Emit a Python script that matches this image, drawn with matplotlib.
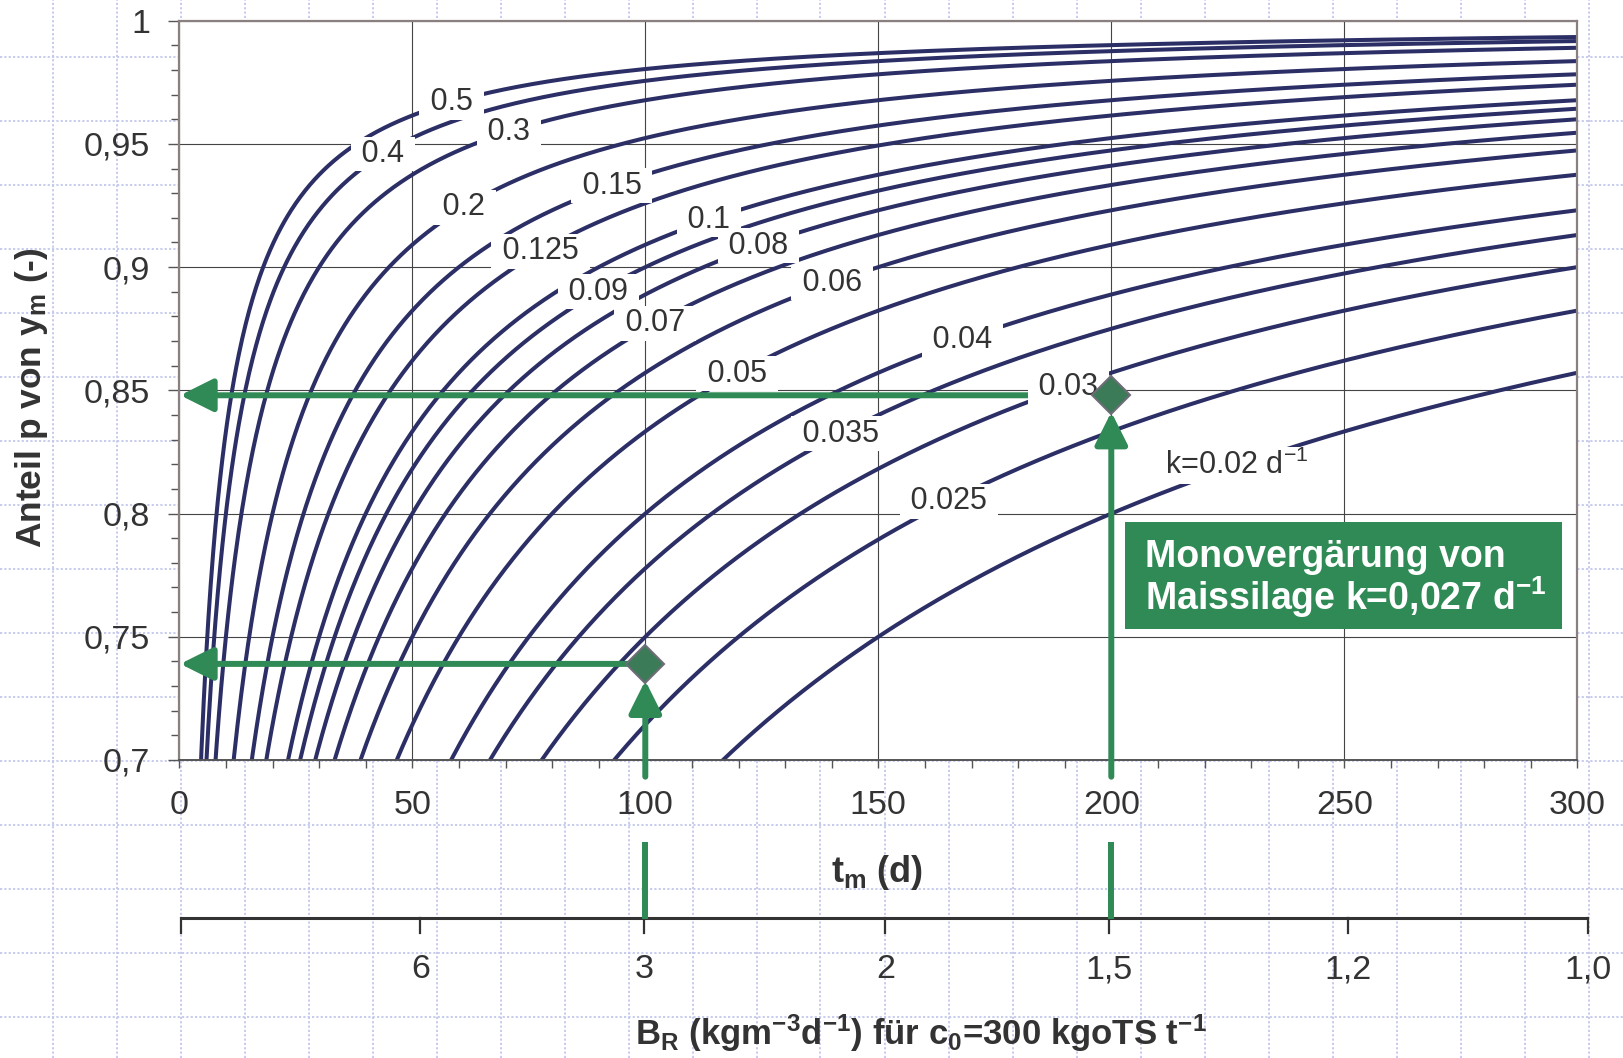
import numpy as np
import matplotlib
matplotlib.use('Agg')
import matplotlib.pyplot as plt
from matplotlib.lines import Line2D
from matplotlib.patches import Rectangle
import matplotlib.transforms as mtransforms

plt.rcParams['font.family'] = ['Liberation Sans', 'DejaVu Sans']
plt.rcParams['mathtext.fontset'] = 'custom'
plt.rcParams['mathtext.rm'] = 'Liberation Sans'
plt.rcParams['mathtext.it'] = 'Liberation Sans:italic'
plt.rcParams['mathtext.bf'] = 'Liberation Sans:bold'

# ---------------- data ----------------
k_values = [0.5, 0.4, 0.3, 0.2, 0.15, 0.125, 0.1, 0.09, 0.08, 0.07, 0.06,
            0.05, 0.04, 0.035, 0.03, 0.025, 0.02]
label_texts = ['0.5', '0.4', '0.3', '0.2', '0.15', '0.125', '0.1', '0.09', '0.08',
               '0.07', '0.06', '0.05', '0.04', '0.035', '0.03', '0.025',
               r'k=0.02 d$^{\mathregular{-1}}$']
label_t = [58.4, 43.7, 70.8, 61.0, 92.8, 77.5, 113.7, 89.9, 124.3,
           102.1, 140.1, 119.7, 168.1, 141.9, 190.8, 165.2, 227.0]
t_days = np.linspace(0.0, 300.0, 1201)

x_ticks = [0, 50, 100, 150, 200, 250, 300]
x_ticklabels = ['0', '50', '100', '150', '200', '250', '300']
y_ticks = [0.7, 0.75, 0.8, 0.85, 0.9, 0.95, 1.0]
y_ticklabels = ['0,7', '0,75', '0,8', '0,85', '0,9', '0,95', '1']

# secondary B_R scale (hand-drawn in the original; positions read in t_m units)
br_labels = ['6', '3', '2', '1,5', '1,2', '1,0']
br_tick_t = [51.7, 99.8, 151.5, 199.4, 250.9, 302.4]

example_t = [100, 200]
example_p = [0.739, 0.848]

# ---------------- figure ----------------
W, H = 1623, 1058
fig = plt.figure(figsize=(W / 100, H / 100), dpi=100)
fig.patch.set_facecolor('white')


def fx(px):
    return px / W


def fy(py):
    return 1 - py / H


# slide background: dotted lavender grid
bg = '#c3c7ec'
for xv in np.arange(52.5, W, 64.0):
    fig.add_artist(Line2D([fx(xv)] * 2, [0, 1], transform=fig.transFigure,
                          color=bg, lw=1.3, ls=(0, (1.2, 1.2)), zorder=-5))
for yv in np.arange(56.7, H, 64.0):
    fig.add_artist(Line2D([0, 1], [fy(yv)] * 2, transform=fig.transFigure,
                          color=bg, lw=1.3, ls=(0, (1.2, 1.2)), zorder=-5))

ax = fig.add_axes([fx(179.3), fy(760), fx(1577.3) - fx(179.3), fy(20.7) - fy(760)])
ax.set_facecolor('white')

navy = '#2c2f66'
green = '#2f8a55'
txtc = '#333333'

for k in k_values:
    p = k * t_days / (1 + k * t_days)
    ax.plot(t_days, p, color=navy, lw=2.9, zorder=2, solid_capstyle='butt')

for k, txt, tl in zip(k_values, label_texts, label_t):
    p = k * tl / (1 + k * tl)
    z = 4.6 if txt == '0.03' else 3.5
    s = txt if txt.startswith('k=') else ' ' + txt + ' '
    ax.text(tl, p, s, fontsize=22, color=txtc, ha='center', va='center', zorder=z,
            bbox=dict(boxstyle='square,pad=0.08', fc='white', ec='none'))

ax.set_xlim(0, 300)
ax.set_ylim(0.7, 1.0)
ax.set_xticks(x_ticks)
ax.set_xticklabels(x_ticklabels)
ax.set_xticks(np.arange(0, 301, 10), minor=True)
ax.set_yticks(y_ticks)
ax.set_yticklabels(y_ticklabels)
ax.set_yticks(np.arange(0.70, 1.0001, 0.01), minor=True)
ax.tick_params(axis='x', which='both', direction='out', length=5.8, width=1,
               color='#555555', labelsize=24.5, labelcolor=txtc, pad=16)
ax.tick_params(axis='y', which='major', direction='out', length=8, width=1,
               color='#555555', labelsize=24.5, labelcolor=txtc, pad=13)
ax.tick_params(axis='y', which='minor', direction='out', length=5.8, width=1,
               color='#555555')
ax.set_axisbelow(True)
ax.grid(True, which='major', color='#444444', lw=0.8)
for s in ['top', 'left', 'right']:
    ax.spines[s].set_color('#8a8080')
    ax.spines[s].set_linewidth(1.6)
ax.spines['bottom'].set_color('#555555')
ax.spines['bottom'].set_linewidth(1.4)

# green arrows and example points
blend = mtransforms.blended_transform_factory(ax.transData, fig.transFigure)
astyle = '-|>,head_length=2.0,head_width=1.0'
for tm, pm in zip(example_t, example_p):
    ax.annotate('', xy=(0.2, pm), xytext=(tm, pm), xycoords='data', textcoords='data',
                arrowprops=dict(arrowstyle=astyle, mutation_scale=10, lw=4.3,
                                color=green, shrinkA=0, shrinkB=0), zorder=4)
    b = ax.annotate('', xy=(tm, pm), xytext=(tm, fy(776.7)), xycoords='data',
                    textcoords=blend, annotation_clip=False,
                    arrowprops=dict(arrowstyle=astyle, mutation_scale=10, lw=4.3,
                                    color=green, shrinkA=0, shrinkB=12), zorder=4)
    b.arrow_patch.set_clip_on(False)
    ax.plot([tm, tm], [fy(841.7), fy(919)], transform=blend, color=green, lw=4.3,
            clip_on=False, solid_capstyle='butt', zorder=5)

ax.plot(example_t, example_p, 'D', ms=19, mfc='#3b7b57', mec='#6d6d78', mew=1.5,
        zorder=6, clip_on=False)

# secondary axis B_R
y_ax = fy(918.3)
ax.plot([0.36, br_tick_t[-1]], [y_ax, y_ax], transform=blend, color='#333333', lw=2.2,
        clip_on=False, solid_capstyle='butt', zorder=3)
for tt in [0.36] + br_tick_t:
    ax.plot([tt, tt], [y_ax, fy(933)], transform=blend, color='#333333', lw=1.6,
            clip_on=False, zorder=3)
for tt, lab in zip(br_tick_t, br_labels):
    ax.text(tt, fy(970), lab, transform=blend, ha='center', va='center',
            fontsize=24.5, color=txtc)

# axis labels
fig.text(fx(877), fy(881.7), r't$_\mathbf{m}$ (d)', fontsize=26, fontweight='bold',
         ha='center', va='baseline', color=txtc)
fig.text(fx(921), fy(1045),
         r'B$_\mathbf{R}$ (kgm$^\mathbf{-3}$d$^\mathbf{-1}$) für c$_\mathbf{0}$=300 kgoTS t$^\mathbf{-1}$',
         fontsize=25, fontweight='bold', ha='center', va='baseline', color=txtc)
fig.text(fx(32), fy(398), r'Anteil p von y$_\mathbf{m}$ (-)', fontsize=25.5,
         fontweight='bold', rotation=90, ha='center', va='center', color=txtc)

# annotation box
fig.add_artist(Rectangle((fx(1125), fy(629.3)), fx(1562) - fx(1125),
                         fy(521.7) - fy(629.3), transform=fig.transFigure,
                         fc=green, ec='none', zorder=7))
fig.text(fx(1144.8), fy(566.7), 'Monovergärung von', fontsize=27, fontweight='bold',
         color='white', ha='left', va='baseline', zorder=8)
fig.text(fx(1144.8), fy(610), r'Maissilage k=0,027 d$^\mathbf{-1}$', fontsize=27,
         fontweight='bold', color='white', ha='left', va='baseline', zorder=8)

fig.savefig('out.png', dpi=100)
